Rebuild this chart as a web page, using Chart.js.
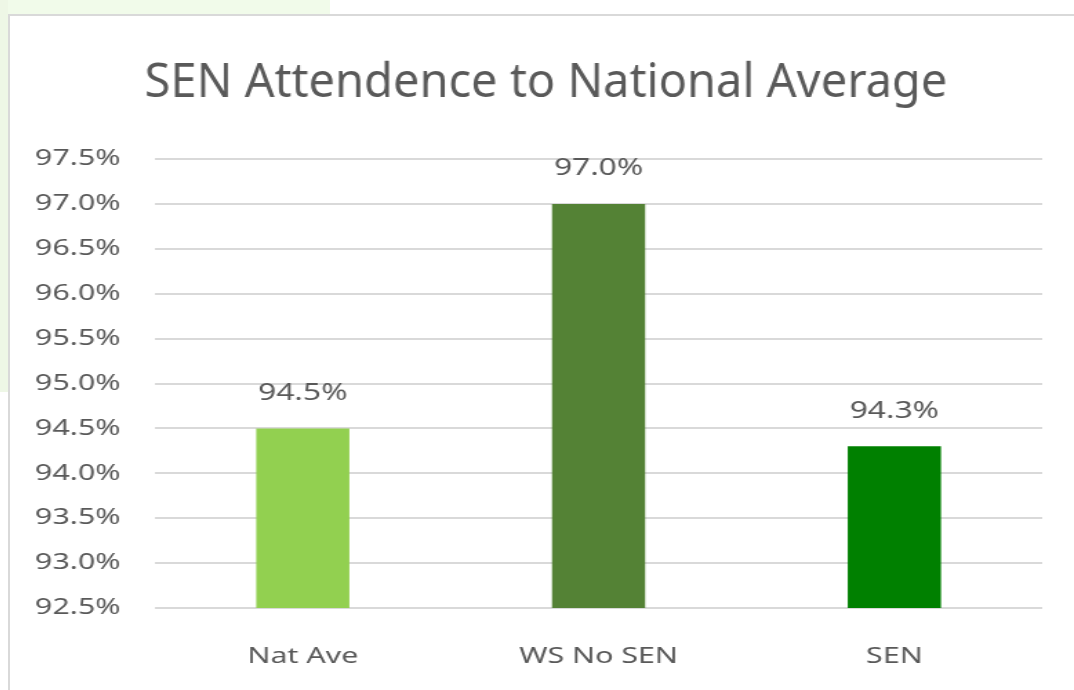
<!DOCTYPE html>
<html>
<head>
<meta charset="utf-8">
<script src="https://cdn.jsdelivr.net/npm/chart.js@4/dist/chart.umd.min.js"></script>
<style>
  html, body { margin: 0; padding: 0; background: #fff; overflow: hidden; }
  body { width: 1074px; height: 690px; position: relative; }
  .bg { position: absolute; left: 0; top: 0; width: 330px; height: 14px; background: #f1fbea; }
  .bg2 { position: absolute; left: 0; top: 0; width: 8px; height: 392px; background: #eef7e6; }
  .frame { position: absolute; left: 8px; top: 14px; width: 1080px; height: 700px;
           border: 2px solid #d9d9d9; background: #fff; box-sizing: border-box; }
  /* the source picture is stretched sideways, so the canvas is too */
  .wrap { position: absolute; left: 10px; top: 16px; transform: scaleX(1.38); transform-origin: 0 0; }
</style>
</head>
<body>
<div class="bg"></div>
<div class="bg2"></div>
<div class="frame"></div>
<div class="wrap"><canvas id="chart" width="771" height="674"></canvas></div>
<script>
const categories = ['Nat Ave', 'WS No SEN', 'SEN'];
const attendance = [94.5, 97.0, 94.3];
const barColors = ['#92D050', '#548235', '#008000'];
const chartTitle = 'SEN Attendence to National Average';

const stretch = 1.38;
const textColor = '#595959';
const fontFamily = "'Segoe UI', 'Noto Sans', 'Open Sans', sans-serif";

// title is drawn without the sideways stretch
const titlePlugin = {
  id: 'titlePlugin',
  afterDraw(chart) {
    const ctx = chart.ctx;
    ctx.save();
    ctx.scale(1 / stretch, 1);
    ctx.font = '47px ' + fontFamily;
    ctx.fillStyle = textColor;
    ctx.textAlign = 'center';
    ctx.textBaseline = 'alphabetic';
    ctx.fillText(chartTitle, 536, 81);
    ctx.restore();
  }
};

// draws the value above each bar
const valueLabels = {
  id: 'valueLabels',
  afterDatasetsDraw(chart) {
    const ctx = chart.ctx;
    const meta = chart.getDatasetMeta(0);
    ctx.save();
    ctx.font = '23px ' + fontFamily;
    ctx.fillStyle = textColor;
    ctx.textAlign = 'center';
    ctx.textBaseline = 'middle';
    meta.data.forEach((bar, i) => {
      ctx.fillText(attendance[i].toFixed(1) + '%', bar.x, bar.y - 35);
    });
    ctx.restore();
  }
};

new Chart(document.getElementById('chart'), {
  type: 'bar',
  data: {
    labels: categories,
    datasets: [{
      data: attendance,
      backgroundColor: barColors,
      barPercentage: 0.315,
      categoryPercentage: 1
    }]
  },
  options: {
    responsive: false,
    animation: false,
    layout: { padding: { left: 0, right: 23, top: 143, bottom: 0 } },
    plugins: {
      legend: { display: false },
      tooltip: { enabled: false },
      title: { display: false }
    },
    scales: {
      y: {
        min: 92.5,
        max: 97.5,
        ticks: {
          stepSize: 0.5,
          padding: 25,
          color: textColor,
          font: { family: fontFamily, size: 22 },
          callback: v => v.toFixed(1) + '%'
        },
        grid: { color: '#d9d9d9', lineWidth: 2, drawTicks: false },
        border: { display: false },
        afterFit: scale => { scale.width = 105; }
      },
      x: {
        ticks: {
          padding: 36,
          color: textColor,
          font: { family: fontFamily, size: 22 }
        },
        grid: { display: false, drawTicks: false },
        border: { display: false },
        afterFit: scale => { scale.height = 82; }
      }
    }
  },
  plugins: [valueLabels, titlePlugin]
});
</script>
</body>
</html>
